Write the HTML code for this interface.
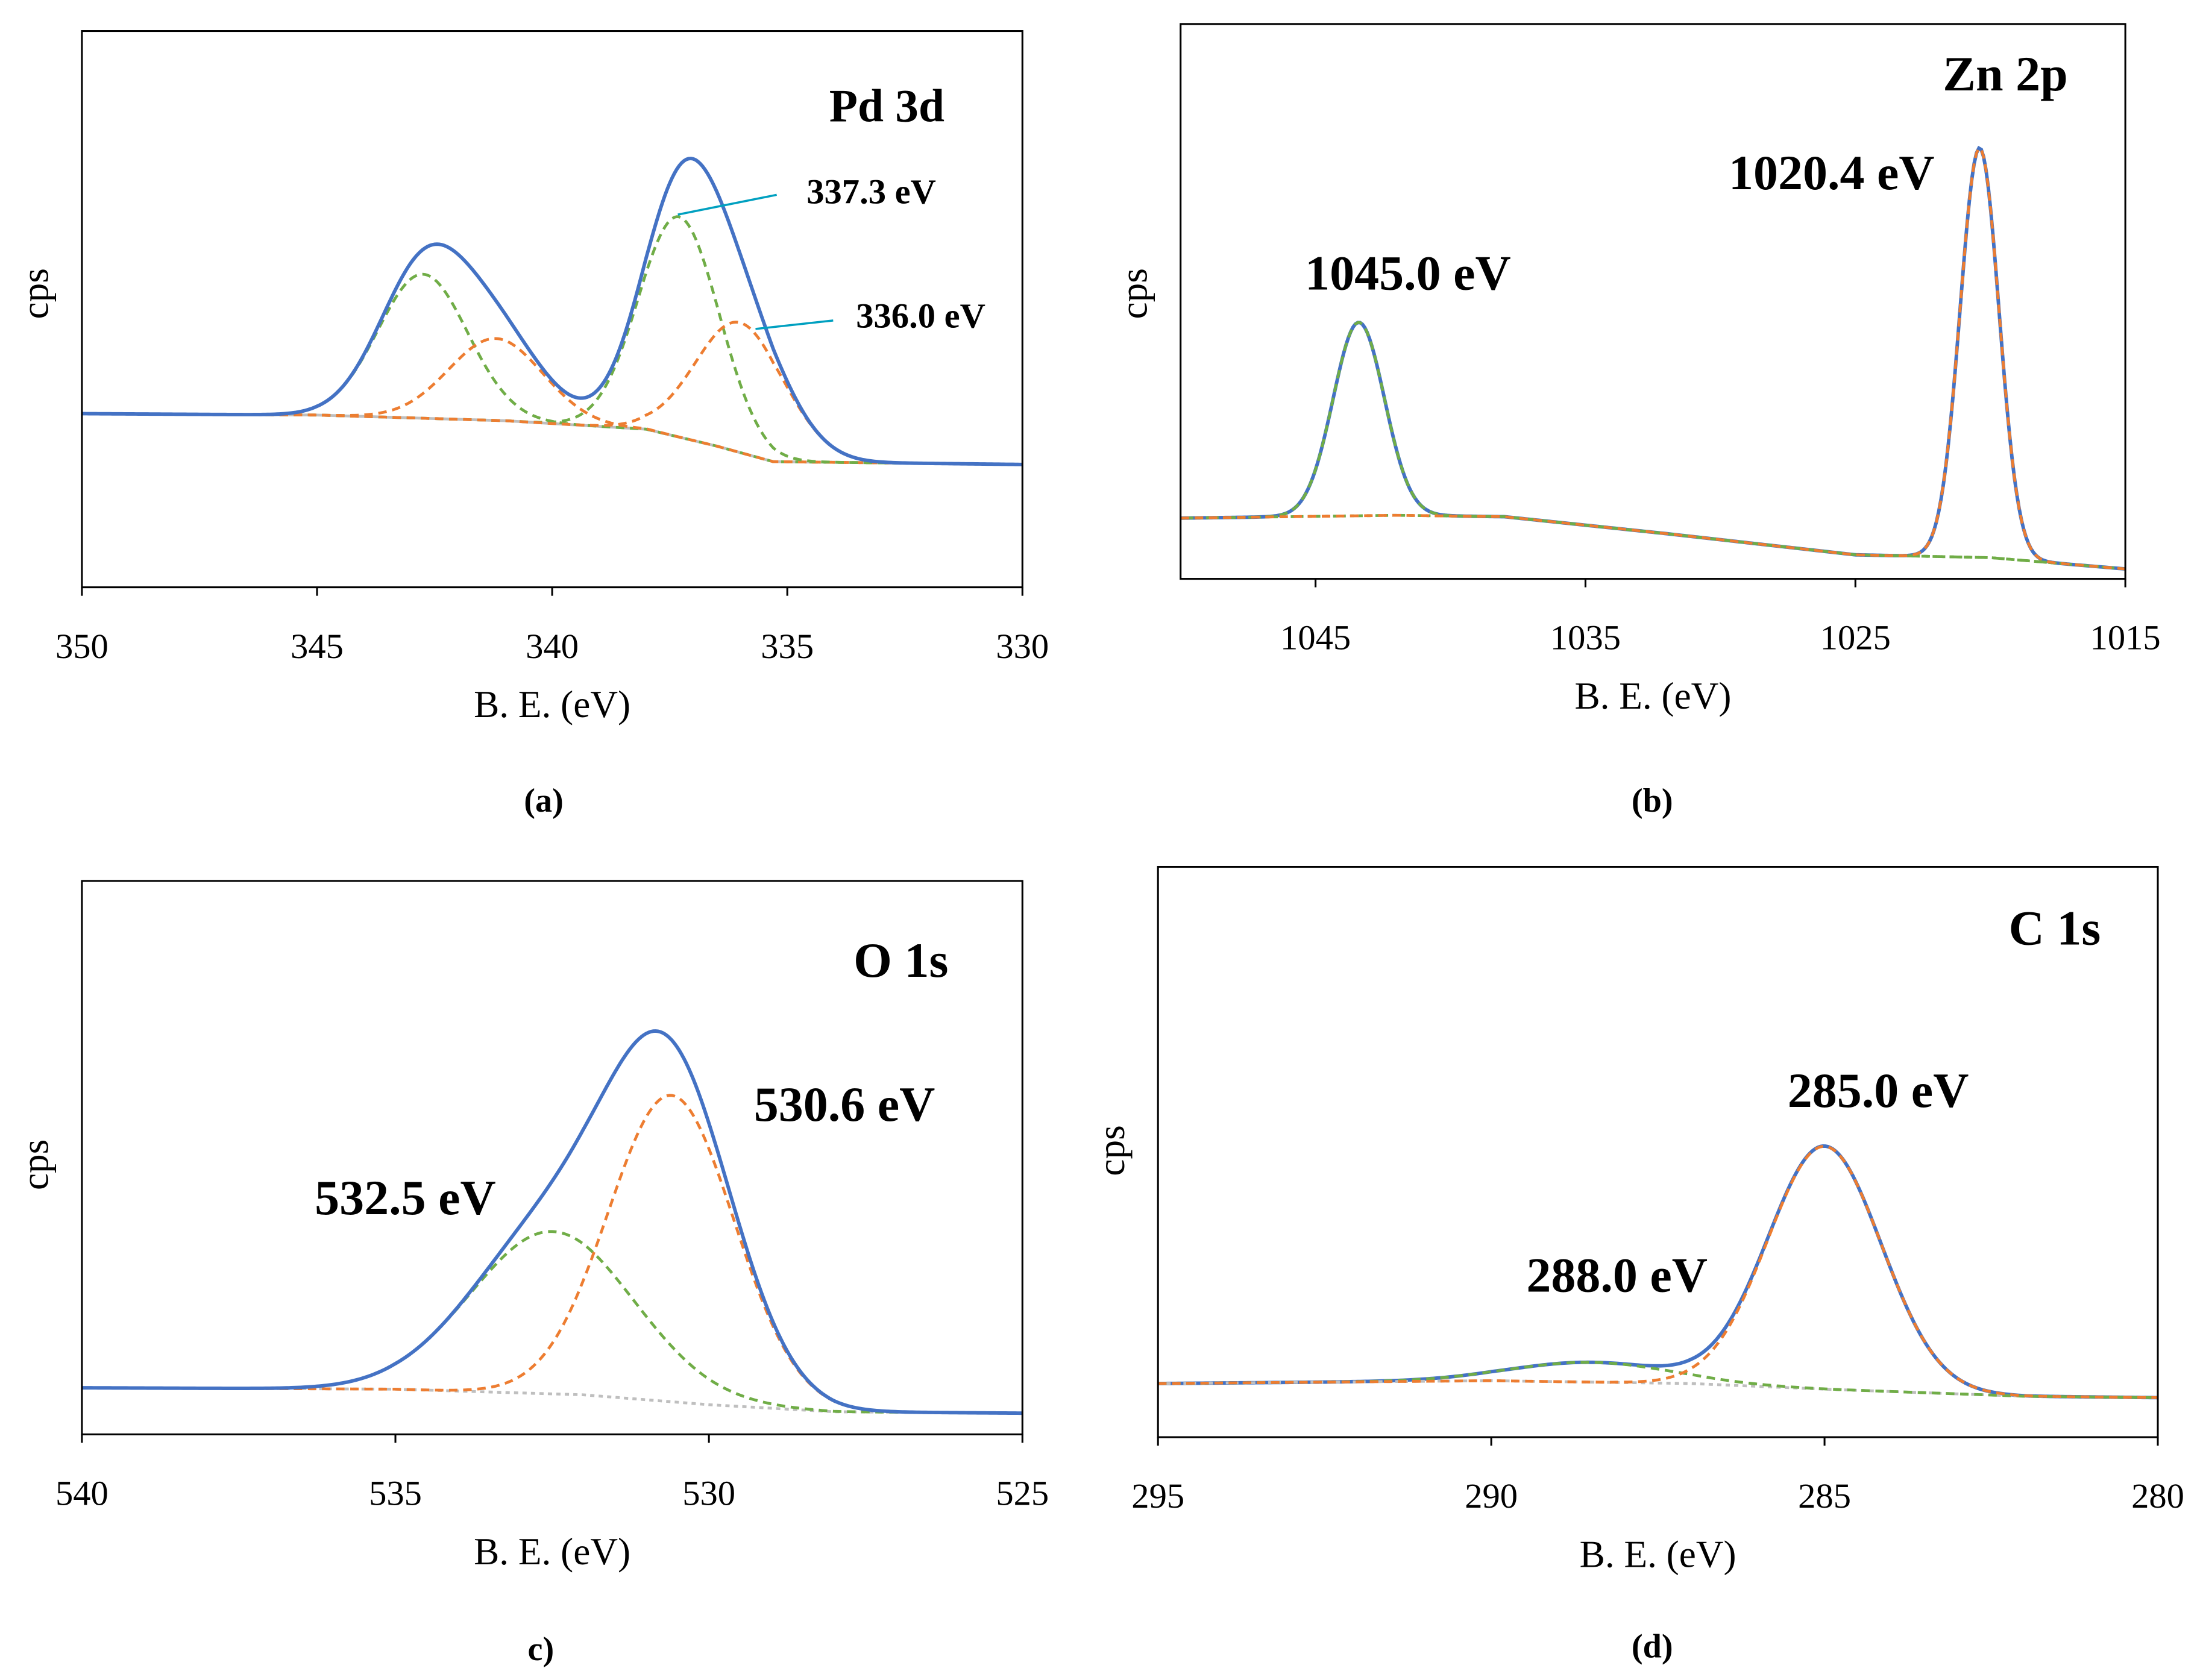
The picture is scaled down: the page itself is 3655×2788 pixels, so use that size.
<!DOCTYPE html>
<html><head><meta charset="utf-8"><style>
html,body{margin:0;padding:0;background:#fff}
svg{display:block}
text{font-family:"Liberation Serif",serif;fill:#000}
</style></head><body>
<svg id="fig" width="3655" height="2788" viewBox="0 0 1560 1190" preserveAspectRatio="none" xmlns="http://www.w3.org/2000/svg"></svg>
<script>
// ---- Panel (a) Pd 3d ----
const pdTicks = [350,345,340,335,330];
const pdBgX = [350,345,341,338,336.5,335.3,330];
const pdBgY = [123,122,118,112,100,89,87];
const pdCenters = [342.75,341.2,337.3,336.0];
const pdHeights = [102,58,156,92];
const pdSigmas = [0.95,1.0,0.85,0.95];
const pdColors = ['green','orange','green','orange'];
// ---- Panel (b) Zn 2p ----
const znTicks = [1045,1035,1025,1015];
const znBgX = [1050,1042,1038,1032,1025,1020,1015];
const znBgY = [43,45,44,32,17,15,7];
const znCenters = [1043.4,1020.4];
const znHeights = [137,290];
const znSigmas = [0.95,0.72];
const znColors = ['green','orange'];
// ---- Panel (c) O 1s ----
const oTicks = [540,535,530,525];
const oBgX = [540,535,532,530,528,525];
const oBgY = [33,32,28,21,16,15];
const oCenters = [532.5,530.6];
const oHeights = [115,217];
const oSigmas = [1.3,1.0];
const oColors = ['green','orange'];
// ---- Panel (d) C 1s ----
const cTicks = [295,290,285,280];
const cBgX = [295,290,287,285,282,280];
const cBgY = [38,40,38,34,29,28];
const cCenters = [288.5,285.0];
const cHeights = [14,172];
const cSigmas = [1.2,0.85];
const cColors = ['green','orange'];

const COL = {blue:'#4472C4',orange:'#ED7D31',green:'#70AD47',gray:'#BFBFBF'};
const svg = document.getElementById('fig');
const NS = 'http://www.w3.org/2000/svg';
function mk(tag, attrs, parent){
  const e = document.createElementNS(NS, tag);
  for (const k in attrs) e.setAttribute(k, attrs[k]);
  (parent||svg).appendChild(e);
  return e;
}
function interp(xs, ys, x){
  if (x >= xs[0]) return ys[0];
  for (let i=0;i<xs.length-1;i++){
    if (x <= xs[i] && x >= xs[i+1]){
      const t = (xs[i]-x)/(xs[i]-xs[i+1]);
      return ys[i] + t*(ys[i+1]-ys[i]);
    }
  }
  return ys[ys.length-1];
}
function gauss(x,c,h,s){ return h*Math.exp(-(x-c)*(x-c)/(2*s*s)); }

function panel(p){
  const g = mk('g',{});
  
  
  const sx = v => p.x0 + (p.xmax - v)/(p.xmax - p.xmin)*(p.x1 - p.x0);
  const sy = v => p.y1 - v;
  const N = 400;
  const xsS = [];
  for (let i=0;i<=N;i++) xsS.push(p.xmax - (p.xmax-p.xmin)*i/N);
  const path = fn => xsS.map((x,i)=>(i?'L':'M')+sx(x).toFixed(2)+' '+sy(fn(x)).toFixed(2)).join(' ');
  const drawEnv = () => {
    const env = mk('path',{d:path(x=>{let v=interp(p.bgX,p.bgY,x);p.centers.forEach((c,i)=>v+=gauss(x,c,p.heights[i],p.sigmas[i]));return v;}),fill:'none',stroke:COL.blue,'stroke-width':2.5},g);
    
    
  };
  if (p.envBelow) drawEnv();
  const bg = mk('path',{d:path(x=>interp(p.bgX,p.bgY,x)),fill:'none',stroke:p.bgColor,'stroke-width':2,'stroke-dasharray':p.bgDash},g);
  
  
  p.centers.forEach((c,i)=>{
    const e = mk('path',{d:path(x=>interp(p.bgX,p.bgY,x)+gauss(x,c,p.heights[i],p.sigmas[i])),fill:'none',stroke:COL[p.colors[i]],'stroke-width':2,'stroke-dasharray':'6 4'},g);
    
    
  });
  if (!p.envBelow) drawEnv();
  const fr = mk('rect',{x:p.x0,y:p.yTop,width:p.x1-p.x0,height:p.y1-p.yTop,fill:'none',stroke:'#000','stroke-width':1.3},g);
  
  
  p.ticks.forEach(t=>{
    const X = sx(t);
    const tk = mk('line',{x1:X,x2:X,y1:p.y1,y2:p.y1+6,stroke:'#000','stroke-width':1.3},g);
    
    
    const tl = mk('text',{x:X,y:p.y1+50,'text-anchor':'middle','font-size':25},g);
    tl.textContent = t;
    
    
  });
  const xl = mk('text',{x:(p.x0+p.x1)/2,y:p.y1+92,'text-anchor':'middle','font-size':27},g);
  xl.textContent = 'B. E. (eV)';
  
  
  const yl = mk('text',{x:p.cpsX,y:p.cpsY,'text-anchor':'middle','font-size':27,transform:`rotate(-90 ${p.cpsX} ${p.cpsY})`},g);
  yl.textContent = 'cps';
  
  
  const cap = mk('text',{x:p.capX,y:p.capY,'text-anchor':'middle','font-size':24,'font-weight':'bold','font-family':'Liberation Sans, sans-serif'},g);
  cap.textContent = p.caption;
  
  
  p.labels.forEach(l=>{
    const t = mk('text',{x:l[1],y:l[2],'text-anchor':'middle','font-size':l[3],'font-weight':'bold'},g);
    t.textContent = l[0];
    
    
  });
  return g;
}

panel({name:'panel-a-pd3d',x0:58,x1:724,yTop:22,y1:416,xmax:350,xmin:330,ticks:pdTicks,bgX:pdBgX,bgY:pdBgY,
  centers:pdCenters,heights:pdHeights,sigmas:pdSigmas,colors:pdColors,bgColor:COL.gray,bgDash:'none',envBelow:false,
  cpsX:34,cpsY:208,capX:385,capY:575,caption:'(a)',
  labels:[['Pd 3d',628,86,33,'panel-title'],['337.3 eV',617,144,25,'peak-label-337'],['336.0 eV',652,232,25,'peak-label-336']]});
panel({name:'panel-b-zn2p',x0:836,x1:1505,yTop:17,y1:410,xmax:1050,xmin:1015,ticks:znTicks,bgX:znBgX,bgY:znBgY,
  centers:znCenters,heights:znHeights,sigmas:znSigmas,colors:znColors,bgColor:COL.green,bgDash:'3 3',envBelow:true,
  cpsX:812,cpsY:208,capX:1170,capY:575,caption:'(b)',
  labels:[['Zn 2p',1420,64,35,'panel-title'],['1020.4 eV',1297,134,35,'peak-label-1020'],['1045.0 eV',997,205,35,'peak-label-1045']]});
panel({name:'panel-c-o1s',x0:58,x1:724,yTop:624,y1:1016,xmax:540,xmin:525,ticks:oTicks,bgX:oBgX,bgY:oBgY,
  centers:oCenters,heights:oHeights,sigmas:oSigmas,colors:oColors,bgColor:COL.gray,bgDash:'3 3',envBelow:false,
  cpsX:34,cpsY:825,capX:383,capY:1176,caption:'c)',
  labels:[['O 1s',638,692,35,'panel-title'],['530.6 eV',598,794,35,'peak-label-530'],['532.5 eV',287,860,35,'peak-label-532']]});
panel({name:'panel-d-c1s',x0:820,x1:1528,yTop:614,y1:1018,xmax:295,xmin:280,ticks:cTicks,bgX:cBgX,bgY:cBgY,
  centers:cCenters,heights:cHeights,sigmas:cSigmas,colors:cColors,bgColor:COL.gray,bgDash:'3 3',envBelow:true,
  cpsX:796,cpsY:815,capX:1170,capY:1174,caption:'(d)',
  labels:[['C 1s',1455,669,35,'panel-title'],['285.0 eV',1330,784,35,'peak-label-285'],['288.0 eV',1145,915,35,'peak-label-288']]});

const l1 = mk('line',{x1:480,y1:152,x2:550,y2:138,stroke:'#00A0C0','stroke-width':1.5});


const l2 = mk('line',{x1:535,y1:233,x2:590,y2:227,stroke:'#00A0C0','stroke-width':1.5});


</script>
</body></html>
